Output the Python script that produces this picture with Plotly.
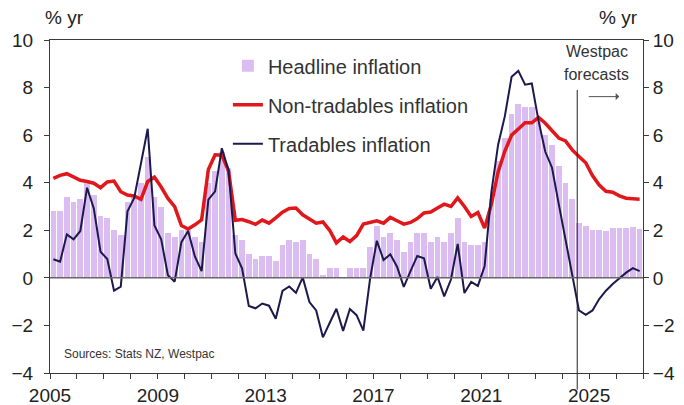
import plotly.graph_objects as go

# quarterly, 2005 Q1 to 2026 Q4 (annual % change)
start_year = 2005
forecast_start = 2024.56

headline = [
    2.8, 2.8, 3.4, 3.2, 3.3, 4.0, 3.5, 2.6, 2.5, 2.0, 1.8, 3.2,
    3.4, 4.0, 5.1, 3.4, 3.0, 1.9, 1.7, 2.0, 2.0, 1.7, 1.5, 4.0,
    4.5, 5.3, 4.6, 1.8, 1.6, 1.0, 0.8, 0.9, 0.9, 0.7, 1.4, 1.6,
    1.5, 1.6, 1.0, 0.8, 0.1, 0.4, 0.4, 0.0, 0.4, 0.4, 0.4, 1.3,
    2.2, 1.7, 1.9, 1.6, 1.1, 1.5, 1.9, 1.9, 1.5, 1.7, 1.5, 1.9,
    2.5, 1.5, 1.4, 1.4, 1.5, 3.3, 4.9, 5.9, 6.9, 7.3, 7.2, 7.2,
    6.7, 6.0, 5.6, 4.7, 4.0, 3.3, 2.3, 2.2, 2.0, 2.0, 1.95, 2.1,
    2.1, 2.1, 2.15, 2.05,
]

non_tradables = [
    4.18, 4.31, 4.38, 4.24, 4.1, 4.05, 3.98, 3.79, 4.03, 4.07, 3.62, 3.48,
    3.44, 3.3, 4.05, 4.23, 3.82, 3.34, 2.99, 2.2, 2.05, 2.23, 2.44, 4.56,
    5.17, 5.16, 4.49, 2.42, 2.45, 2.36, 2.25, 2.43, 2.3, 2.52, 2.76, 2.92,
    2.94, 2.65, 2.46, 2.3, 2.35, 2.0, 1.47, 1.72, 1.53, 1.78, 2.26, 2.34,
    2.4, 2.3, 2.54, 2.4, 2.26, 2.33, 2.49, 2.73, 2.77, 2.94, 3.1, 3.0,
    3.36, 3.0, 2.58, 2.75, 2.09, 3.1, 4.45, 5.33, 6.0, 6.26, 6.52, 6.52,
    6.75, 6.5, 6.19, 5.88, 5.76, 5.38, 5.1, 4.84, 4.3, 3.9, 3.64, 3.6,
    3.45, 3.35, 3.33, 3.31,
]

tradables = [
    0.78, 0.68, 1.83, 1.62, 1.97, 3.79, 2.92, 1.1, 0.79, -0.54, -0.37, 2.8,
    3.36, 4.75, 6.27, 2.2, 1.62, 0.11, -0.16, 1.5, 1.97, 0.9, 0.28, 3.29,
    3.64, 5.45, 4.52, 1.03, 0.4, -1.18, -1.28, -1.08, -1.17, -1.72, -0.55, -0.36,
    -0.63, 0.02, -1.02, -1.37, -2.5, -1.9, -1.3, -2.23, -1.31, -1.57, -2.22, -0.03,
    1.56, 0.75, 0.99, 0.47, -0.38, 0.28, 0.92, 0.82, -0.46, 0.04, -0.78, -0.07,
    1.43, -0.64, -0.17, -0.34, 0.5, 3.6, 5.6, 6.8, 8.45, 8.7, 8.12, 8.17,
    6.6, 5.3, 4.63, 3.1, 1.6, 0.1, -1.37, -1.55, -1.37, -0.89, -0.54, -0.26,
    0.0, 0.22, 0.41, 0.28,
]

x = [start_year + (i + 0.5) / 4 for i in range(len(headline))]
years = list(range(2005, 2028))
year_labels = [str(y) if (y - 2005) % 4 == 0 else "" for y in years]

FONT = "Arial, Liberation Sans, sans-serif"
AXIS_COL = "#3a3a3a"

fig = go.Figure()
fig.add_trace(go.Bar(
    x=x, y=headline, width=0.25 * 0.85, name="Headline inflation",
    marker=dict(color="#dcbdf2", line=dict(width=0)),
    legendgroup="a",
))
fig.add_trace(go.Scatter(
    x=x, y=non_tradables, mode="lines", name="Non-tradables inflation",
    line=dict(color="#e0181b", width=3.5), legendgroup="b",
))
fig.add_trace(go.Scatter(
    x=x, y=tradables, mode="lines", name="Tradables inflation",
    line=dict(color="#1c1a4d", width=2), legendgroup="c",
))
# dummy trace to get the right-hand axis
fig.add_trace(go.Scatter(x=[2005], y=[0], yaxis="y2", mode="markers",
                         marker=dict(opacity=0), showlegend=False, hoverinfo="skip"))

yax = dict(
    range=[-4, 10], dtick=2, ticks="outside", ticklen=5, tickcolor=AXIS_COL,
    showline=True, linecolor=AXIS_COL, linewidth=1, showgrid=False,
    tickfont=dict(size=19, color="#222"), zeroline=False, automargin=False,
)

# page body adds an 8px offset, margins account for it
fig.update_layout(
    width=684, height=405,
    paper_bgcolor="white", plot_bgcolor="white",
    font=dict(family=FONT, color="#222"),
    margin=dict(l=42, r=49, t=32, b=40),
    bargap=0,
    xaxis=dict(
        range=[2005, 2027], tickvals=years, ticktext=year_labels,
        ticks="outside", ticklen=5, tickcolor=AXIS_COL,
        showline=True, linecolor=AXIS_COL, linewidth=1, mirror=True,
        showgrid=False, zeroline=False, tickfont=dict(size=19, color="#222"),
        automargin=False,
    ),
    yaxis=dict(yax, ticklabelstandoff=7),
    yaxis2=dict(yax, overlaying="y", side="right", ticklabelstandoff=0),
    legend=dict(
        x=0.30, y=0.981, xanchor="left", yanchor="top",
        font=dict(size=20, color="#333"), bgcolor="rgba(0,0,0,0)",
        traceorder="grouped", tracegroupgap=10,
    ),
    showlegend=True,
)

# zero line
fig.add_shape(type="line", xref="paper", yref="y", x0=0, x1=1, y0=0, y1=0,
              line=dict(color="#666666", width=1.5))
# forecast divider
fig.add_shape(type="line", xref="x", yref="paper", x0=forecast_start, x1=forecast_start,
              y0=0.85, y1=-0.05, line=dict(color="#222", width=1))

fig.add_annotation(text="% yr", xref="paper", yref="paper", x=-0.012, y=1.068,
                   xanchor="left", yanchor="middle", showarrow=False,
                   font=dict(size=19, color="#222"))
fig.add_annotation(text="% yr", xref="paper", yref="paper", x=0.995, y=1.068,
                   xanchor="right", yanchor="middle", showarrow=False,
                   font=dict(size=19, color="#222"))
fig.add_annotation(text="Sources: Stats NZ, Westpac", xref="paper", yref="paper",
                   x=0.02, y=0.057, xanchor="left", yanchor="middle", showarrow=False,
                   font=dict(size=12, color="#333"))
fig.add_annotation(text="Westpac", xref="paper", yref="paper",
                   x=0.922, y=0.964, xanchor="center", yanchor="middle", showarrow=False,
                   font=dict(size=16, color="#333"))
fig.add_annotation(text="forecasts", xref="paper", yref="paper",
                   x=0.922, y=0.895, xanchor="center", yanchor="middle", showarrow=False,
                   font=dict(size=16, color="#333"))
fig.add_annotation(text="", xref="paper", yref="paper", x=0.96, y=0.83,
                   ax=-32, ay=0, showarrow=True, arrowhead=1, arrowsize=1.2,
                   arrowwidth=1, arrowcolor="#555")

fig.write_html("out.html")
